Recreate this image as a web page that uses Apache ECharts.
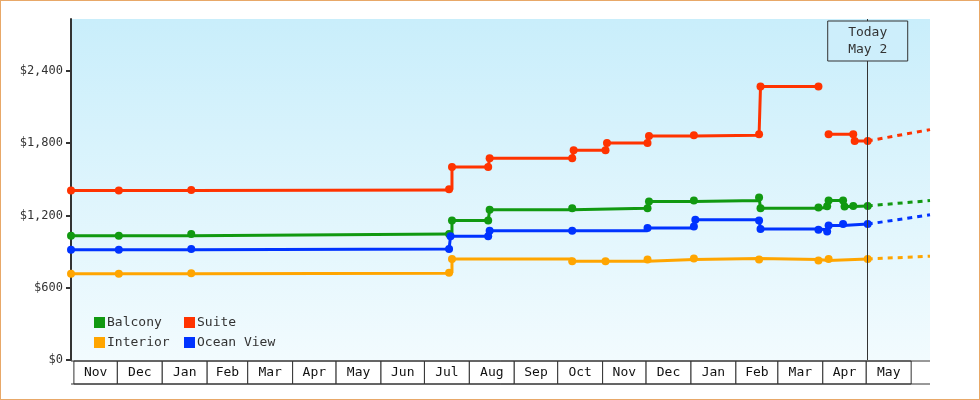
<!DOCTYPE html>
<html><head><meta charset="utf-8">
<script src="https://cdn.jsdelivr.net/npm/echarts@6/dist/echarts.min.js"></script>
<style>html,body{margin:0;padding:0;background:#fff}#c{width:980px;height:400px;box-sizing:border-box;border:1px solid #e8a868}</style>
</head><body><div id="c"></div>
<script>
const balconyDates=['2022-10-30','2022-12-02','2023-01-21','2023-07-18','2023-07-20','2023-08-14','2023-08-15','2023-10-11','2023-12-02','2023-12-03','2024-01-03','2024-02-17','2024-02-18','2024-03-29','2024-04-04','2024-04-05','2024-04-15','2024-04-16','2024-04-22','2024-05-02'];
const balconyVals=[1032,1032,1046,1046,1158,1158,1246,1260,1260,1315,1323,1348,1260,1265,1275,1323,1323,1273,1279,1279];
const suiteDates=['2022-10-30','2022-12-02','2023-01-21','2023-07-18','2023-07-20','2023-08-14','2023-08-15','2023-10-11','2023-10-12','2023-11-03','2023-11-04','2023-12-02','2023-12-03','2024-01-03','2024-02-17','2024-02-18','2024-03-29','2024-03-31','2024-04-05','2024-04-22','2024-04-23','2024-05-02'];
const suiteVals=[1407,1407,1410,1417,1601,1601,1675,1675,1741,1741,1801,1801,1860,1865,1873,2270,2270,null,1873,1873,1818,1818];
const interiorDates=['2022-10-30','2022-12-02','2023-01-21','2023-07-18','2023-07-20','2023-10-11','2023-11-03','2023-12-02','2024-01-03','2024-02-17','2024-03-29','2024-04-05','2024-05-02'];
const interiorVals=[716,716,720,724,839,820,820,834,842,834,825,839,839];
const oceanDates=['2022-10-30','2022-12-02','2023-01-21','2023-07-18','2023-07-19','2023-08-14','2023-08-15','2023-10-11','2023-12-02','2024-01-03','2024-01-04','2024-02-17','2024-02-18','2024-03-29','2024-04-04','2024-04-05','2024-04-15','2024-05-02'];
const oceanVals=[916,916,922,922,1026,1026,1073,1073,1095,1108,1164,1158,1087,1081,1067,1117,1128,1128];
const forecastDates=['2024-05-02','2024-06-14'];
const balconyForecast=[1279,1323];
const suiteForecast=[1818,1912];
const interiorForecast=[839,861];
const oceanForecast=[1128,1205];
const monthStarts=['2022-11-01','2022-12-01','2023-01-01','2023-02-01','2023-03-01','2023-04-01','2023-05-01','2023-06-01','2023-07-01','2023-08-01','2023-09-01','2023-10-01','2023-11-01','2023-12-01','2024-01-01','2024-02-01','2024-03-01','2024-04-01','2024-05-01','2024-06-01'];
const monthLabels=['Nov','Dec','Jan','Feb','Mar','Apr','May','Jun','Jul','Aug','Sep','Oct','Nov','Dec','Jan','Feb','Mar','Apr','May'];
const yTicks=[0,600,1200,1800,2400];
const todayDate='2024-05-02';
const xMin='2022-10-30', xMax='2024-06-14';

const FONT='DejaVu Sans Mono';
const zip=(d,v)=>d.map((x,i)=>[x,v[i]==null?'-':v[i]]);
const colors={Balcony:'#119911',Suite:'#ff3300',Interior:'#ffa500','Ocean View':'#0033ff'};
function main(name,d,v,extra){return Object.assign({name,type:'line',step:'end',data:zip(d,v),color:colors[name],symbol:'circle',symbolSize:8,lineStyle:{width:3},connectNulls:false,z:3},extra||{});}
function fc(name,v){return {name:name+' forecast',type:'line',data:zip(forecastDates,v),color:colors[name],symbol:'none',lineStyle:{width:3,type:[5,5]},z:2};}
function leg(name,left,top){return {data:[name],left,top,itemWidth:11,itemHeight:11,icon:'rect',itemGap:6,itemStyle:{borderWidth:0},padding:0,textStyle:{fontFamily:FONT,fontSize:13,color:'#333',padding:[0,0,0,-3]}};}
const chart=echarts.init(document.getElementById('c'));
const monthData=monthLabels.map((l,i)=>[monthStarts[i],monthStarts[i+1]]);
chart.setOption({
  animation:false,
  textStyle:{fontFamily:FONT},
  grid:{left:70,right:49,top:18,bottom:39,show:true,borderWidth:0,
    backgroundColor:{type:'linear',x:0,y:0,x2:0,y2:1,colorStops:[{offset:0,color:'#c9eefb'},{offset:1,color:'#f2fbfe'}]}},
  graphic:[],
  legend:[leg('Balcony',93,315),leg('Suite',183,315),leg('Interior',93,335),leg('Ocean View',183,335)],
  xAxis:{type:'time',min:xMin,max:xMax,axisLine:{show:false},axisTick:{show:false},axisLabel:{show:false},splitLine:{show:false}},
  yAxis:{type:'value',min:0,max:2830,interval:600,
    axisLine:{show:true,lineStyle:{color:'#333',width:2}},
    axisTick:{show:true,length:5,lineStyle:{color:'#333',width:2}},
    axisLabel:{showMaxLabel:false,color:'#333',fontFamily:FONT,fontSize:12,margin:8,formatter:v=>yTicks.includes(v)?'$'+v.toLocaleString('en-US'):''},
    splitLine:{show:false}},
  series:[
    main('Balcony',balconyDates,balconyVals),
    main('Suite',suiteDates,suiteVals,{markLine:{silent:true,symbol:'none',label:{show:false},lineStyle:{color:'#333',width:1,type:'solid'},data:[{xAxis:todayDate}]}}),
    main('Interior',interiorDates,interiorVals),
    main('Ocean View',oceanDates,oceanVals),
    fc('Balcony',balconyForecast),fc('Suite',suiteForecast),fc('Interior',interiorForecast),fc('Ocean View',oceanForecast),
    {type:'custom',name:'months',clip:false,silent:true,data:monthData,z:5,
      renderItem:(p,api)=>{
        const a=api.coord([api.value(0),0]),b=api.coord([api.value(1),0]);
        return {type:'group',children:[
          {type:'rect',shape:{x:a[0],y:a[1]+1,width:b[0]-a[0],height:23},style:{fill:'#fff',stroke:'#333',lineWidth:1}},
          {type:'text',style:{x:(a[0]+b[0])/2,y:a[1]+13,text:monthLabels[p.dataIndex],textAlign:'center',textVerticalAlign:'middle',fill:'#111',font:'13px '+FONT}}
        ]};
      },encode:{x:[0,1]}}
  ]
});
const tx=chart.convertToPixel({gridIndex:0},[todayDate,0])[0];
const bottom=chart.convertToPixel({gridIndex:0},[xMax,0]);
const left=chart.convertToPixel({gridIndex:0},[xMin,0]);
chart.setOption({graphic:[
  {type:'line',shape:{x1:left[0],y1:bottom[1]+24,x2:bottom[0],y2:bottom[1]+24},style:{stroke:'#333',lineWidth:1},z:10},
  {type:'line',shape:{x1:left[0],y1:bottom[1]+1,x2:bottom[0],y2:bottom[1]+1},style:{stroke:'#333',lineWidth:1},z:10},
  {type:'rect',shape:{x:tx-40,y:20,width:80,height:40},style:{fill:'#cdeefb',stroke:'#333',lineWidth:1},z:10},
  {type:'text',style:{x:tx,y:40,text:'Today\nMay 2',textAlign:'center',textVerticalAlign:'middle',fill:'#333',font:'13px '+FONT,lineHeight:17},z:11}
]});
</script></body></html>
